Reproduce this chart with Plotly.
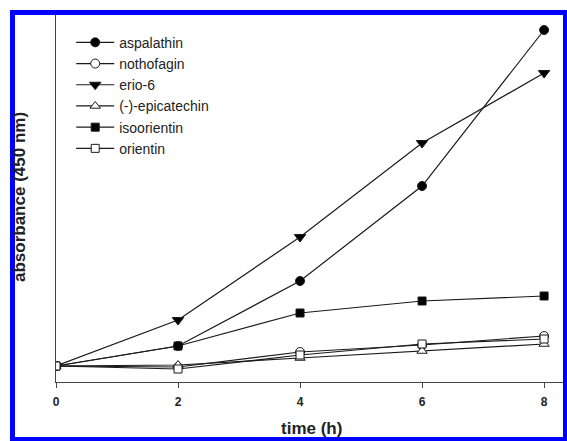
import plotly.graph_objects as go

time_h = [0, 2, 4, 6, 8]
aspalathin = [0.08, 0.18, 0.505, 0.98, 1.76]
nothofagin = [0.08, 0.075, 0.15, 0.185, 0.23]
erio6 = [0.08, 0.31, 0.725, 1.195, 1.545]
epicatechin = [0.08, 0.085, 0.12, 0.155, 0.19]
isoorientin = [0.08, 0.18, 0.345, 0.405, 0.43]
orientin = [0.08, 0.065, 0.135, 0.19, 0.215]
x_ticks = [0, 2, 4, 6, 8]

series = [
    ("aspalathin", aspalathin, "circle", "black", 9),
    ("nothofagin", nothofagin, "circle", "white", 9),
    ("erio-6", erio6, "triangle-down", "black", 10),
    ("(-)-epicatechin", epicatechin, "triangle-up", "white", 9),
    ("isoorientin", isoorientin, "square", "black", 8),
    ("orientin", orientin, "square", "white", 8),
]

FONT = "Arial, Liberation Sans, sans-serif"
fig = go.Figure()
for name, vals, sym, fill, size in series:
    fig.add_trace(go.Scatter(
        x=time_h, y=vals, mode="lines+markers", name=name,
        line=dict(color="#1a1a1a", width=1.2),
        marker=dict(symbol=sym, color=fill, size=size,
                    line=dict(color="#1a1a1a", width=1)),
    ))

fig.update_layout(
    width=567, height=441,
    margin=dict(l=56, r=4, t=15, b=59),
    paper_bgcolor="white", plot_bgcolor="white",
    showlegend=True,
    legend=dict(x=0.030, y=0.968, xanchor="left", yanchor="top",
                bgcolor="rgba(0,0,0,0)", borderwidth=0, itemwidth=38,
                font=dict(family=FONT, size=14, color="#222")),
    font=dict(family=FONT, color="#222"),
)
fig.update_xaxes(
    range=[0, 8.31], tickvals=x_ticks, ticktext=[str(v) for v in x_ticks],
    showline=True, linecolor="#444", linewidth=1,
    ticks="outside", ticklen=5, tickcolor="#444", showgrid=False, zeroline=False,
    tickfont=dict(family=FONT, size=12, color="#222", weight="bold"),
    ticklabelstandoff=4,
)
fig.update_yaxes(
    range=[0, 1.835], showline=True, linecolor="#444", linewidth=1,
    showticklabels=False, ticks="", showgrid=False, zeroline=False,
)
fig.add_annotation(text="<b>time (h)</b>", xref="paper", yref="paper",
                   x=0.503, y=-0.128, xanchor="center", yanchor="middle",
                   showarrow=False,
                   font=dict(family=FONT, size=17, color="#222"))
fig.add_annotation(text="<b>absorbance (450 nm)</b>", xref="paper", yref="paper",
                   x=-0.073, y=0.504, xanchor="center", yanchor="middle",
                   showarrow=False, textangle=-90,
                   font=dict(family=FONT, size=17, color="#222"))
fig.add_shape(type="rect", xref="paper", yref="paper",
              x0=-0.0858, x1=1.0049, y0=-0.1567, y1=1.0068,
              line=dict(color="#0000ff", width=5), fillcolor="rgba(0,0,0,0)",
              layer="above")
fig.write_html("out.html", config={"displayModeBar": False},
               post_script="document.body.style.margin='0';document.body.style.overflow='hidden';")
